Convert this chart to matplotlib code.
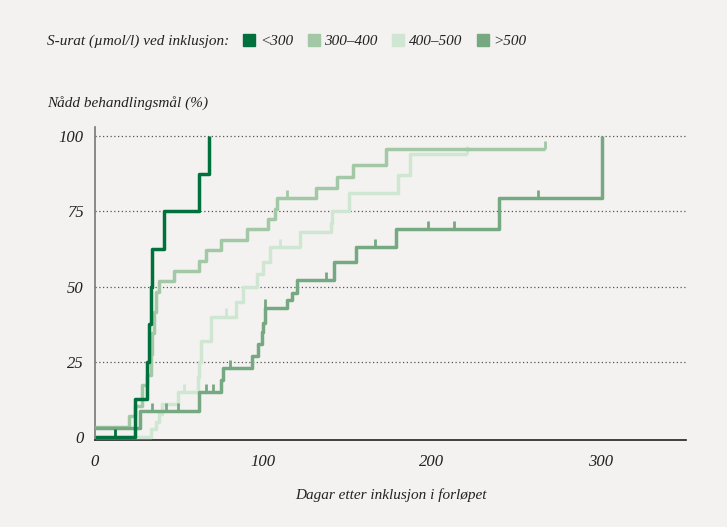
import numpy as np
import matplotlib.pyplot as plt
from matplotlib.lines import Line2D

# Kaplan-Meier style curves (days, % reached target)
labels = ['<300', '300–400', '400–500', '>500']
colors = ['#00703c', '#a2c8a6', '#cfe6d2', '#76a882']

t_lt300 = [0, 24, 31, 32, 33, 34, 41, 62, 68]
y_lt300 = [0, 12.5, 25, 37.5, 50, 62.5, 75, 87.5, 100]
end_lt300 = 68
cens_lt300 = [12]

t_300 = [0, 20, 24, 28, 31, 33, 34, 35, 36, 38, 47, 62, 66, 75, 90, 103, 107, 108, 131, 144, 153, 173]
y_300 = [3.4, 6.9, 10.3, 17.2, 20.7, 27.6, 34.5, 41.4, 48.3, 51.7, 55.2, 58.6, 62.1, 65.5, 69.0, 72.4, 75.9, 79.3, 82.8, 86.5, 90.5, 95.7]
end_300 = 267
cens_300 = [114, 267]

t_400 = [0, 33, 36, 38, 40, 49, 61, 62, 63, 69, 84, 88, 96, 100, 104, 122, 140, 141, 151, 180, 187]
y_400 = [0, 2.5, 5, 7.5, 11, 15, 20, 25, 32, 40, 45, 50, 54, 58, 63, 68, 71, 75, 81, 87, 94]
end_400 = 221
cens_400 = [53, 78, 110, 221]

t_500 = [0, 27, 62, 75, 76, 93, 97, 99, 100, 101, 114, 117, 120, 142, 155, 179, 240, 301]
y_500 = [3, 8.6, 15, 19, 23, 27, 31, 35, 38, 43, 45.5, 48, 52, 58, 63, 69, 79.3, 100]
end_500 = 301
cens_500 = [34, 42, 49, 66, 70, 80, 101, 137, 166, 198, 213, 263]

groups = [
    (t_400, y_400, end_400, cens_400, colors[2]),
    (t_300, y_300, end_300, cens_300, colors[1]),
    (t_500, y_500, end_500, cens_500, colors[3]),
    (t_lt300, y_lt300, end_lt300, cens_lt300, colors[0]),
]

bg = '#f3f2f0'
ink = '#222222'
plt.rcParams['font.family'] = ['Liberation Serif', 'DejaVu Serif']

fig = plt.figure(figsize=(7.27, 5.27), dpi=100, facecolor=bg)
ax = fig.add_axes([95 / 727, 1 - 440 / 527, 591 / 727, 313 / 527])
ax.set_facecolor(bg)

for t, y, end, cens, c in groups:
    x = np.array(t + [end])
    yy = np.array(y + [y[-1]])
    ax.step(x, yy, where='post', color=c, lw=2.5, solid_capstyle='butt', zorder=3)
    # censoring ticks
    for d in cens:
        idx = np.searchsorted(t, d, side='right') - 1
        yc = y[idx]
        ax.plot([d, d], [yc, yc + 2.7], color=c, lw=2.0, solid_capstyle='butt', zorder=3)

ax.set_xlim(0, 351)
ax.set_ylim(-1, 103)
ax.set_xticks([0, 100, 200, 300])
ax.set_yticks([0, 25, 50, 75, 100])
for v in [25, 50, 75, 100]:
    ax.axhline(v, color='#555555', lw=0.9, ls=(0, (1, 2)), zorder=1)

for s in ['top', 'right']:
    ax.spines[s].set_visible(False)
ax.spines['left'].set_color('#777777')
ax.spines['left'].set_linewidth(1.2)
ax.spines['bottom'].set_color(ink)
ax.spines['bottom'].set_linewidth(1.2)
ax.tick_params(length=0, labelsize=12, colors=ink)
ax.tick_params(axis='x', pad=10)
ax.tick_params(axis='y', pad=8)
for lab in ax.get_xticklabels() + ax.get_yticklabels():
    lab.set_style('italic')

ax.set_xlabel('Dagar etter inklusjon i forløpet', fontsize=11, style='italic',
              color=ink, labelpad=13)

fig.text(47 / 727, 1 - 103 / 527, 'Nådd behandlingsmål (%)', fontsize=11,
         style='italic', color=ink, va='center', ha='left')
fig.text(47 / 727, 1 - 41 / 527, 'S-urat (µmol/l) ved inklusjon:', fontsize=11,
         style='italic', color=ink, va='center', ha='left')

handles = [Line2D([], [], ls='none', marker='s', markersize=8.6, markerfacecolor=c,
                  markeredgecolor=c) for c in colors]
leg = fig.legend(handles, labels, ncol=4, loc='center left',
                 bbox_to_anchor=(237 / 727, 1 - 41 / 527), frameon=False,
                 handlelength=0.8, handletextpad=0.3, columnspacing=0.95,
                 borderaxespad=0, prop={'size': 11, 'style': 'italic'})
for txt in leg.get_texts():
    txt.set_color(ink)

fig.savefig('out.png', dpi=100, facecolor=bg)
